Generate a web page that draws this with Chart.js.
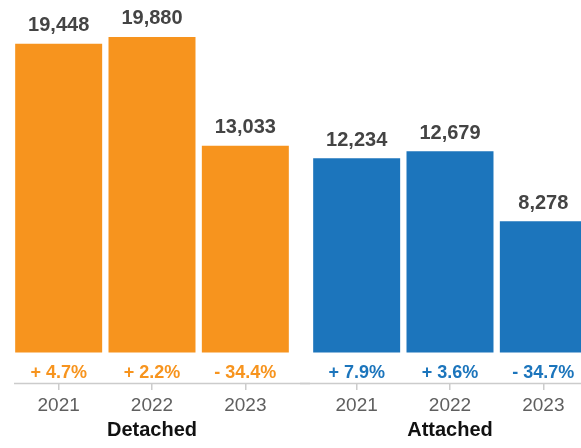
<!DOCTYPE html>
<html>
<head>
<meta charset="utf-8">
<script src="https://cdn.jsdelivr.net/npm/chart.js@4/dist/chart.umd.min.js"></script>
<style>
  html, body { margin: 0; padding: 0; background: #fff; overflow: hidden; }
  #wrap { position: relative; width: 581px; height: 448px; overflow: hidden; }
  canvas { position: absolute; top: 0; }
  #detached { left: 0; }
  #attached { left: 300px; }
</style>
</head>
<body>
<div id="wrap">
  <canvas id="detached" width="310" height="448"></canvas>
  <canvas id="attached" width="290" height="448"></canvas>
</div>
<script>
const years = ['2021', '2022', '2023'];
const detachedValues = [19448, 19880, 13033];
const attachedValues = [12234, 12679, 8278];
const detachedChanges = ['+ 4.7%', '+ 2.2%', '- 34.4%'];
const attachedChanges = ['+ 7.9%', '+ 3.6%', '- 34.7%'];
const groupLabels = ['Detached', 'Attached'];

const FONT = "'Liberation Sans', Arial, Helvetica, sans-serif";

// value above each bar, change % just under its base, and the long baseline
const barLabels = {
  id: 'barLabels',
  afterDatasetsDraw(chart, args, opts) {
    const ctx = chart.ctx;
    const meta = chart.getDatasetMeta(0);
    const values = chart.data.datasets[0].data;
    ctx.save();
    ctx.textAlign = 'center';
    ctx.textBaseline = 'alphabetic';
    meta.data.forEach((bar, i) => {
      ctx.font = 'bold 20px ' + FONT;
      ctx.fillStyle = '#444444';
      ctx.fillText(values[i].toLocaleString('en-US'), bar.x, bar.y - 12.5);
      ctx.font = 'bold 18px ' + FONT;
      ctx.fillStyle = opts.color;
      ctx.fillText(opts.changes[i], bar.x, bar.base + 25);
    });
    const y = Math.round(chart.chartArea.bottom) + 0.5;
    ctx.strokeStyle = '#cccccc';
    ctx.lineWidth = 1.5;
    ctx.beginPath();
    ctx.moveTo(opts.lineStart, y);
    ctx.lineTo(chart.width, y);
    ctx.stroke();
    ctx.restore();
  },
};

function createBarChart(canvas, config) {
  return new Chart(canvas, {
    type: 'bar',
    data: {
      labels: years,
      datasets: [{
        data: config.values,
        backgroundColor: config.color,
        borderWidth: 0,
        categoryPercentage: 1,
        barPercentage: 0.932,
      }],
    },
    plugins: [barLabels],
    options: {
      responsive: false,
      animation: false,
      layout: {
        padding: { left: config.padLeft, right: config.padRight, top: 0, bottom: 0 },
      },
      plugins: {
        legend: { display: false },
        tooltip: { enabled: false },
        barLabels: {
          color: config.color,
          changes: config.changes,
          lineStart: config.lineStart,
        },
      },
      scales: {
        x: {
          afterFit(scale) { scale.height = 65; },
          border: { display: false },
          grid: {
            display: true,
            drawOnChartArea: false,
            drawTicks: true,
            tickLength: 7,
            offset: false,
            color: '#cccccc',
            lineWidth: 1.5,
          },
          ticks: {
            color: '#5f5f5f',
            padding: 4,
            font: { family: FONT, size: 19 },
          },
          title: {
            display: true,
            text: config.group,
            color: '#111111',
            padding: { top: 0, bottom: 6 },
            font: { family: FONT, size: 20, weight: 'bold' },
          },
        },
        y: {
          display: false,
          min: -1920,
          max: 22210,
        },
      },
    },
  });
}

createBarChart(document.getElementById('detached'), {
  values: detachedValues,
  changes: detachedChanges,
  group: groupLabels[0],
  color: '#F7941E',
  padLeft: 12,
  padRight: 18,
  lineStart: 14,
});

createBarChart(document.getElementById('attached'), {
  values: attachedValues,
  changes: attachedChanges,
  group: groupLabels[1],
  color: '#1C75BC',
  padLeft: 10,
  padRight: 0,
  lineStart: 0,
});
</script>
</body>
</html>
